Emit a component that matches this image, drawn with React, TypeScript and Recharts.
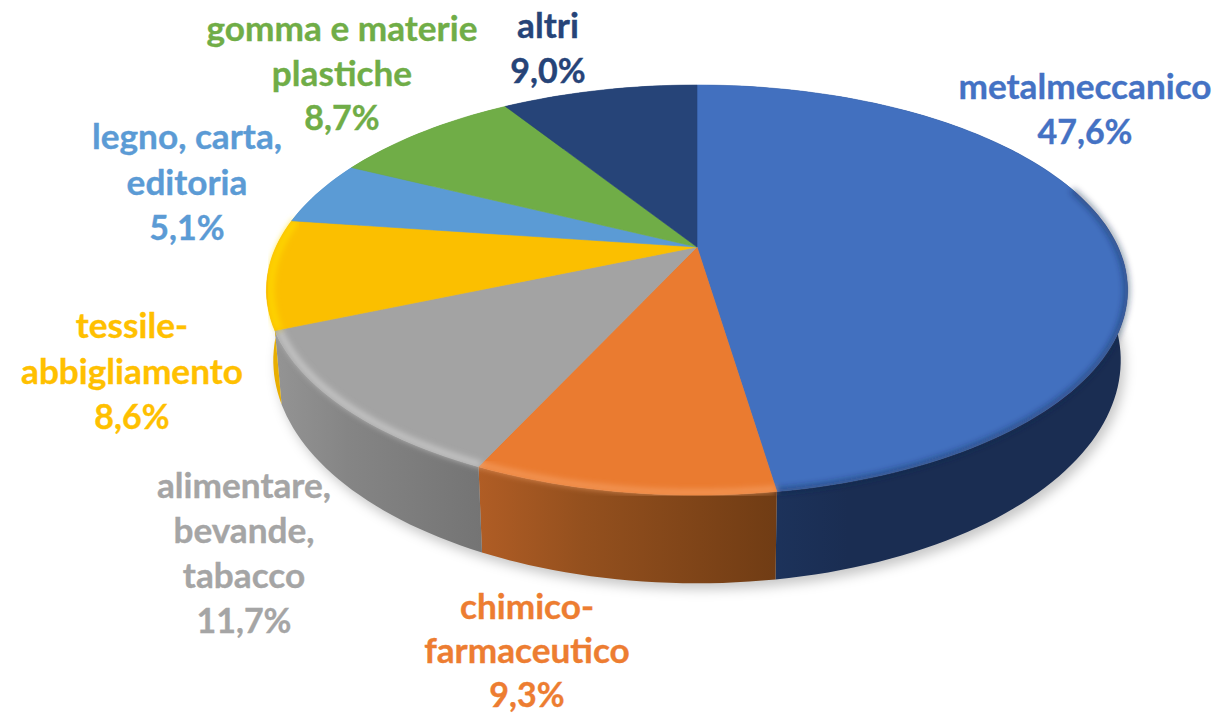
import React from 'react';
import { PieChart, Pie } from 'recharts';

const categories = [
  'metalmeccanico',
  'chimico-farmaceutico',
  'alimentare, bevande, tabacco',
  'tessile-abbigliamento',
  'legno, carta, editoria',
  'gomma e materie plastiche',
  'altri',
];
const shares = [47.6, 9.3, 11.7, 8.6, 5.1, 8.7, 9.0];
const labelLines = [
  ['metalmeccanico'],
  ['chimico-', 'farmaceutico'],
  ['alimentare,', 'bevande,', 'tabacco'],
  ['tessile-', 'abbigliamento'],
  ['legno, carta,', 'editoria'],
  ['gomma e materie', 'plastiche'],
  ['altri'],
];

const pieData = categories.map((name, i) => ({ name, value: shares[i] }));
const discData = [{ name: 'disc', value: 1 }];

const TOP_COLORS = ['#4270bf', '#ea7b30', '#a3a3a3', '#fbbf00', '#5b9bd5', '#70ad47', '#264478'];
const LABEL_COLORS = ['#4472c4', '#ed7d31', '#a5a5a5', '#ffc000', '#5b9bd5', '#70ad47', '#264478'];
const WALL_STOPS = [
  ['#1f3864', '#1a2d52', '#1a2d52'],
  ['#b05d25', '#94501e', '#703c14'],
  ['#949494', '#858585', '#747474'],
  ['#e8ae00', '#e8ae00', '#e8ae00'],
  ['#4a80b4', '#4a80b4', '#4a80b4'],
  ['#5c8f3a', '#5c8f3a', '#5c8f3a'],
  ['#1d3560', '#1d3560', '#1d3560'],
];
const BEVELS: ({ color: string; from?: number; opacity: number; inset: number } | null)[] = [
  { color: '#16284d', from: 72, opacity: 0.55, inset: 0.998 },
  { color: '#f8a56c', opacity: 0.8, inset: 0.99 },
  { color: '#d6d6d6', opacity: 0.85, inset: 0.99 },
  { color: '#ffdc00', opacity: 1, inset: 0.99 },
  null,
  null,
  null,
];
// centre x, first baseline and line pitch of every label
const LABEL_POS = [
  [1085, 99, 45],
  [527, 619, 44],
  [244, 498, 45],
  [132, 338, 45.5],
  [187, 149, 45.5],
  [342, 41, 44.5],
  [548, 38, 45],
];
const FONT = 'Lato, Carlito, sans-serif';

// the disc is seen in perspective, so the apex sits above the middle of the ellipse
const TILT = 0.21;
const SQUASH = 196 / 421;

const rimPoint = (cx: number, cy: number, r: number, deg: number, scale = 1) => {
  const t = (deg * Math.PI) / 180;
  const w = 1 + TILT * Math.cos(t);
  return {
    x: cx + (r * scale * Math.sin(t)) / w,
    y: cy - (r * SQUASH * scale * Math.cos(t)) / w,
  };
};

const dropPoint = (p: { x: number; y: number }, cx: number, cy: number) => ({
  x: cx + (p.x - cx) * 0.984,
  y: p.y + 66.6 + 0.087 * (p.y - cy),
});

const arc = (from: number, to: number) => {
  const n = Math.max(2, Math.ceil(Math.abs(to - from) / 1.5));
  return Array.from({ length: n + 1 }, (_, i) => from + ((to - from) * i) / n);
};

const toPath = (pts: { x: number; y: number }[]) =>
  pts.map((p, i) => `${i ? 'L' : 'M'}${p.x.toFixed(1)} ${p.y.toFixed(1)}`).join(' ');

const ShadowShape = (props: any) => {
  const { cx, cy, outerRadius } = props;
  const pts = arc(0, 360).map((d) => dropPoint(rimPoint(cx, cy, outerRadius, d), cx, cy));
  return <path d={toPath(pts) + ' Z'} fill="#000" fillOpacity={0.22} transform="translate(4 6)" filter="url(#soft-shadow)" />;
};

const WallShape = (props: any) => {
  const { cx, cy, outerRadius, startAngle, endAngle, name } = props;
  const idx = categories.indexOf(name);
  const degs = arc(90 - startAngle, 90 - endAngle);
  const upper = degs.map((d) => rimPoint(cx, cy, outerRadius, d));
  const lower = upper.map((p) => dropPoint(p, cx, cy)).reverse();
  return <path d={toPath([...upper, ...lower]) + ' Z'} fill={`url(#wall-${idx})`} />;
};

const TopShape = (props: any) => {
  const { cx, cy, outerRadius, startAngle, endAngle, name } = props;
  const idx = categories.indexOf(name);
  const from = 90 - startAngle;
  const to = 90 - endAngle;
  const edge = arc(from, to).map((d) => rimPoint(cx, cy, outerRadius, d));
  const bevel = BEVELS[idx];
  return (
    <g>
      <path
        d={`M${cx} ${cy} ` + toPath(edge).replace('M', 'L') + ' Z'}
        fill={TOP_COLORS[idx]}
        stroke={TOP_COLORS[idx]}
        strokeWidth={0.6}
      />
      {bevel && (
        <path
          d={toPath(arc(Math.max(from, bevel.from ?? from), to).map((d) => rimPoint(cx, cy, outerRadius, d, bevel.inset)))}
          fill="none"
          stroke={bevel.color}
          strokeOpacity={bevel.opacity}
          strokeWidth={5}
          filter="url(#soft-bevel)"
        />
      )}
    </g>
  );
};

const renderLabel = (props: any) => {
  const idx = categories.indexOf(props.name);
  const [x, y, pitch] = LABEL_POS[idx];
  const names = labelLines[idx];
  const lines = [...names, `${shares[idx].toFixed(1).replace('.', ',')}%`];
  return (
    <text
      key={props.name}
      x={x}
      y={y}
      textAnchor="middle"
      fill={LABEL_COLORS[idx]}
      stroke={LABEL_COLORS[idx]}
      strokeWidth={0.35}
      fontFamily={FONT}
      fontWeight={700}
    >
      {lines.map((line, i) => (
        <tspan key={line} x={x} y={y + i * pitch} fontSize={i < names.length ? 35.2 : 34}>
          {line}
        </tspan>
      ))}
    </text>
  );
};

export default function App() {
  const pieProps = {
    cx: 697,
    cy: 247,
    outerRadius: 421,
    startAngle: 90,
    endAngle: -270,
    dataKey: 'value',
    stroke: 'none',
    isAnimationActive: false,
  };

  return (
    <div style={{ position: 'absolute', left: 0, top: 0, width: 1215, height: 713, background: '#fff', overflow: 'hidden' }}>
      <PieChart width={1215} height={713} margin={{ top: 0, right: 0, bottom: 0, left: 0 }}>
        <defs>
          <filter id="soft-shadow" x="-10%" y="-10%" width="120%" height="130%">
            <feGaussianBlur stdDeviation="6" />
          </filter>
          <filter id="soft-bevel" x="-10%" y="-10%" width="120%" height="120%">
            <feGaussianBlur stdDeviation="3" />
          </filter>
          {WALL_STOPS.map((stops, i) => (
            <linearGradient key={i} id={`wall-${i}`} x1="0" y1="0" x2="1" y2="0">
              <stop offset="0%" stopColor={stops[0]} />
              <stop offset="35%" stopColor={stops[1]} />
              <stop offset="100%" stopColor={stops[2]} />
            </linearGradient>
          ))}
        </defs>
        <Pie {...pieProps} data={discData} shape={ShadowShape} />
        <Pie {...pieProps} data={pieData} shape={WallShape} />
        <Pie {...pieProps} data={pieData} shape={TopShape} label={renderLabel} labelLine={false} />
      </PieChart>
    </div>
  );
}
